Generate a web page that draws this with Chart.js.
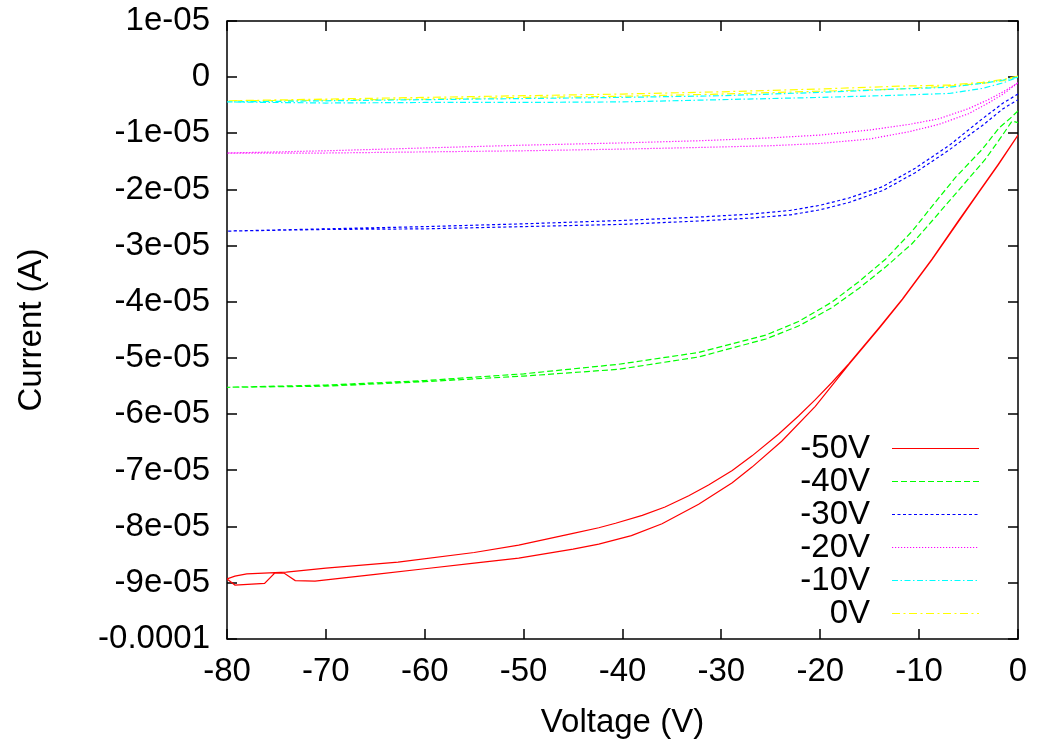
<!DOCTYPE html>
<html>
<head>
<meta charset="utf-8">
<script src="https://cdn.jsdelivr.net/npm/chart.js@4.4.1/dist/chart.umd.min.js"></script>
<style>
  html, body { margin: 0; padding: 0; background: #fff; }
  #wrap { width: 1037px; height: 743px; }
</style>
</head>
<body>
<div id="wrap"><canvas id="ivChart" width="1037" height="743"></canvas></div>
<script>
"use strict";

// Each sweep is a closed loop: 0 V down to -80 V and back again.
// Currents are in microamps.
const seriesLabels = ['-50V', '-40V', '-30V', '-20V', '-10V', '0V'];

const voltsN50 = [0, -2, -4, -6, -8.7, -11.7, -14, -17.1, -18.8, -20.5, -22.2, -24.2, -26.9, -28.9, -31.3, -33.3, -35.7, -38, -40.7, -42.4, -45, -50.5, -55, -62.7, -70, -74, -78, -79.2, -80,
    -79.2, -76.2, -75.2, -74.2, -73.1, -71.1, -65, -60, -55, -50.5, -45, -42.4, -39.1, -36, -32.3, -28.9, -26.9, -23.9, -20.5, -17.1, -14, -11.7, -8.7, -4, -2, 0];
const currentN50 = [-10.3, -15.5, -20.5, -25.5, -32.4, -39.5, -44.5, -51.0, -54.3, -57.4, -60.3, -63.5, -67.4, -70.0, -72.6, -74.5, -76.5, -78.0, -79.4, -80.2, -81.2, -83.3, -84.6, -86.3, -87.4, -88.1, -88.4, -88.8, -89.3,
    -90.4, -90.1, -88.3, -88.3, -89.6, -89.7, -88.5, -87.5, -86.5, -85.6, -84.0, -83.1, -81.6, -79.5, -76.0, -72.2, -69.4, -64.8, -58.6, -51.1, -44.6, -39.6, -32.5, -20.6, -15.6, -10.3];

const voltsN40 = [0, -0.9, -1.9, -3.6, -6.3, -8.7, -10.7, -13.4, -16.1, -18.8, -22.2, -25.5, -32.3, -40.4, -50, -60, -70, -80,
    -70, -60, -50, -40.4, -32.3, -25.5, -22.2, -18.8, -16.1, -13.4, -10.7, -8.7, -5.6, -3.3, -1.6, -0.6, 0];
const currentN40 = [-6.0, -7.5, -9.0, -12.8, -17.8, -23.0, -27.4, -32.4, -36.4, -40.0, -43.5, -45.9, -49.0, -51.1, -52.8, -54.0, -54.8, -55.2,
    -55.0, -54.2, -53.2, -52.0, -49.8, -46.6, -44.3, -41.0, -37.6, -33.8, -29.6, -25.6, -19.3, -14.6, -10.4, -7.8, -8.1];

const voltsN30 = [0, -1.5, -3.6, -7, -10.4, -13.7, -17.1, -20, -23, -27.2, -32.3, -40, -50, -60, -70, -80,
    -70, -60, -50, -40, -32.3, -27.2, -23, -20, -17.1, -13.7, -10.4, -7, -3.6, -1.5, 0];
const currentN30 = [-3.0, -4.6, -7.4, -12.2, -16.2, -19.5, -21.5, -22.8, -23.7, -24.4, -24.9, -25.5, -26.1, -26.6, -27.0, -27.4,
    -27.1, -27.0, -26.6, -26.2, -25.6, -25.1, -24.5, -23.6, -22.3, -20.2, -17.0, -13.0, -8.6, -5.6, -4.0];

const voltsN20 = [0, -1.5, -3, -5, -8, -11, -15, -20, -25, -32, -40, -50, -60, -70, -80,
    -70, -60, -50, -40, -32, -25, -20, -15, -11, -8, -5, -3, -1.5, 0];
const currentN20 = [-1.0, -2.6, -4.0, -5.6, -7.4, -8.4, -9.4, -10.3, -10.8, -11.3, -11.7, -12.1, -12.6, -13.1, -13.5,
    -13.5, -13.3, -13.1, -12.8, -12.5, -12.2, -11.8, -11.0, -9.7, -8.4, -6.5, -4.6, -3.0, -1.0];

const voltsN10 = [0, -1.5, -3.6, -7, -12, -20, -30, -40, -50, -60, -70, -80,
    -70, -60, -50, -40, -30, -20, -12, -7, -3.6, -1.5, 0];
const currentN10 = [0, -0.5, -1.1, -1.8, -2.1, -2.7, -3.3, -3.6, -3.8, -4.0, -4.2, -4.4,
    -4.6, -4.5, -4.5, -4.4, -4.0, -3.6, -3.2, -2.9, -2.0, -1.0, 0];

const volts0 = [0, -1.5, -3.6, -7, -12, -20, -30, -40, -50, -60, -70, -80,
    -70, -60, -50, -40, -30, -20, -12, -7, -3.6, -1.5, 0];
const current0 = [0.2, -0.4, -0.9, -1.4, -1.6, -2.1, -2.6, -3.0, -3.3, -3.6, -3.9, -4.2,
    -4.1, -3.9, -3.6, -3.4, -3.0, -2.5, -2.1, -1.6, -1.1, -0.6, 0.1];

const voltTicks = [-80, -70, -60, -50, -40, -30, -20, -10, 0];
const voltTickLabels = ['-80', '-70', '-60', '-50', '-40', '-30', '-20', '-10', '0'];
const currentTicks = [-1e-4, -9e-5, -8e-5, -7e-5, -6e-5, -5e-5, -4e-5, -3e-5, -2e-5, -1e-5, 0, 1e-5];
const currentTickLabels = ['-0.0001', '-9e-05', '-8e-05', '-7e-05', '-6e-05', '-5e-05', '-4e-05', '-3e-05', '-2e-05', '-1e-05', '0', '1e-05'];

const FONT = '"Liberation Sans", Arial, Helvetica, sans-serif';
const FONT_SIZE = 33;
const TICK = 10;

/* pairs a loop of voltages with its currents (uA -> A). */
const loop = (volts, microAmps) => volts.map((v, i) => ({ x: v, y: microAmps[i] * 1e-6 }));

const makeSet = (label, volts, micro, color, dash) => ({
    label: label,
    data: loop(volts, micro),
    borderColor: color,
    borderWidth: 1.2,
    borderDash: dash,
    showLine: true,
    pointRadius: 0,
    tension: 0,
    fill: false,
});

/* gnuplot style box with inward ticks on all four sides. */
const gnuplotFrame = {
    id: 'gnuplotFrame',
    beforeDatasetsDraw(chart) {
        const { ctx, chartArea: a, scales: { x, y } } = chart;
        ctx.save();
        ctx.strokeStyle = '#000';
        ctx.lineWidth = 1.5;
        ctx.beginPath();
        voltTicks.forEach(v => {
            const px = Math.round(x.getPixelForValue(v));
            ctx.moveTo(px, a.bottom); ctx.lineTo(px, a.bottom - TICK);
            ctx.moveTo(px, a.top); ctx.lineTo(px, a.top + TICK);
        });
        currentTicks.forEach(v => {
            const py = Math.round(y.getPixelForValue(v));
            ctx.moveTo(a.left, py); ctx.lineTo(a.left + TICK, py);
            ctx.moveTo(a.right, py); ctx.lineTo(a.right - TICK, py);
        });
        ctx.stroke();
        ctx.strokeRect(a.left, a.top, a.right - a.left, a.bottom - a.top);
        ctx.restore();
    }
};

/* key in the lower right: label first, then a sample of the line. */
const sideLegend = {
    id: 'sideLegend',
    afterDatasetsDraw(chart) {
        const { ctx, chartArea: a } = chart;
        ctx.save();
        ctx.font = `${FONT_SIZE}px ${FONT}`;
        ctx.textAlign = 'right';
        ctx.textBaseline = 'middle';
        chart.data.datasets.forEach((ds, i) => {
            const yy = a.bottom - 191 + i * 33;
            ctx.fillStyle = '#000';
            ctx.fillText(ds.label, a.right - 148, yy + 1);
            ctx.strokeStyle = ds.borderColor;
            ctx.lineWidth = 1.2;
            ctx.setLineDash(ds.borderDash || []);
            ctx.beginPath();
            ctx.moveTo(a.right - 126, yy + 0.5);
            ctx.lineTo(a.right - 39, yy + 0.5);
            ctx.stroke();
        });
        ctx.restore();
    }
};

const ctx = document.getElementById('ivChart').getContext('2d');
new Chart(ctx, {
    type: 'scatter',
    data: {
        datasets: [
            makeSet(seriesLabels[0], voltsN50, currentN50, '#ff0000', []),
            makeSet(seriesLabels[1], voltsN40, currentN40, '#00ff00', [6, 3]),
            makeSet(seriesLabels[2], voltsN30, currentN30, '#0000ff', [3, 2.5]),
            makeSet(seriesLabels[3], voltsN20, currentN20, '#ff00ff', [1.2, 1.8]),
            makeSet(seriesLabels[4], voltsN10, currentN10, '#00ffff', [6, 2.5, 1.5, 2.5]),
            makeSet(seriesLabels[5], volts0, current0, '#ffff00', [8, 3.5, 2, 3.5]),
        ]
    },
    options: {
        responsive: false,
        animation: false,
        devicePixelRatio: 1,
        layout: { padding: { top: 21, right: 19, left: 0, bottom: 0 } },
        plugins: {
            legend: { display: false },
            tooltip: { enabled: false },
        },
        scales: {
            x: {
                type: 'linear',
                min: -80,
                max: 0,
                afterFit: (scale) => {
                    scale.height = 104;
                    scale.paddingLeft = 0;
                    scale.paddingRight = 0;
                },
                afterBuildTicks: (scale) => { scale.ticks = voltTicks.map(v => ({ value: v })); },
                grid: { display: false, drawTicks: false },
                border: { display: false },
                ticks: {
                    padding: 13,
                    color: '#000',
                    font: { family: FONT, size: FONT_SIZE },
                    maxRotation: 0,
                    autoSkip: false,
                    callback: (value, index) => voltTickLabels[index],
                },
                title: {
                    display: true,
                    text: 'Voltage (V)',
                    color: '#000',
                    font: { family: FONT, size: FONT_SIZE },
                    padding: { top: 0, bottom: 0 },
                },
            },
            y: {
                type: 'linear',
                min: -1e-4,
                max: 1e-5,
                afterFit: (scale) => {
                    scale.width = 227;
                    scale.paddingTop = 0;
                    scale.paddingBottom = 0;
                },
                afterBuildTicks: (scale) => { scale.ticks = currentTicks.map(v => ({ value: v })); },
                grid: { display: false, drawTicks: false },
                border: { display: false },
                ticks: {
                    padding: 17,
                    color: '#000',
                    font: { family: FONT, size: FONT_SIZE },
                    autoSkip: false,
                    callback: (value, index) => currentTickLabels[index],
                },
                title: {
                    display: true,
                    text: 'Current (A)',
                    color: '#000',
                    font: { family: FONT, size: FONT_SIZE },
                    padding: { top: 12, bottom: 0 },
                },
            },
        },
    },
    plugins: [gnuplotFrame, sideLegend],
});
</script>
</body>
</html>
